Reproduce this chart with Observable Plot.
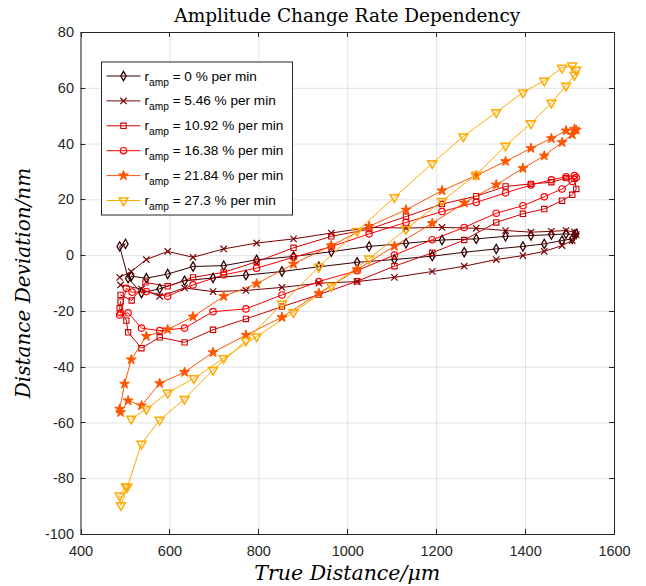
<!DOCTYPE html>
<html>
<head>
<meta charset="utf-8">
<script src="https://cdn.jsdelivr.net/npm/d3@7"></script>
<script src="https://cdn.jsdelivr.net/npm/@observablehq/plot@0.6"></script>
<style>
  html, body { margin: 0; padding: 0; background: #fff; }
  #chart svg { display: block; }
</style>
</head>
<body>
<div id="chart"></div>
<script>
// ---- data ----
const rates = ["0", "5.46", "10.92", "16.38", "21.84", "27.3"];
const colors = ["#330000", "#7a0000", "#cc0000", "#ff0000", "#ff5500", "#ffaa00"];
const xTicks = [400, 600, 800, 1000, 1200, 1400, 1600];
const yTicks = [-100, -80, -60, -40, -20, 0, 20, 40, 60, 80];

const x0 = [513,547,595,652,721,795,878,963,1048,1131,1212,1289,1355,1412,1458,1491,1510,1514,1505,1482,1442,1394,1334,1262,1190,1105,1021,935,852,771,697,633,577,536,506,487,500];
const y0 = [-7.4,-8.1,-6.6,-3.9,-3.6,-1.5,-0.3,1.4,3.3,4.4,5.6,6.0,6.9,7.2,7.5,7.8,7.5,7.8,6.0,5.4,4.2,3.3,2.4,1.2,-0.2,-1.4,-2.4,-4.0,-5.7,-7.0,-8.0,-9.0,-11.9,-13.4,-8.1,3.3,4.2];

const x1 = [487,513,547,595,652,721,795,878,963,1048,1131,1212,1289,1355,1412,1458,1491,1510,1514,1505,1482,1442,1394,1334,1262,1190,1105,1021,935,852,771,697,633,577,536,489];
const y1 = [-7.8,-5.7,-1.4,1.5,-0.6,2.4,4.5,6.0,8.1,10.1,9.9,10.1,9.8,9.0,8.4,8.7,9.0,8.4,7.5,5.4,3.6,1.5,0.0,-1.4,-3.8,-5.7,-7.8,-9.3,-9.9,-11.4,-12.5,-12.9,-11.6,-14.6,-12.0,-10.5];

const x2 = [489,514,545,595,652,721,795,878,963,1048,1131,1212,1289,1355,1412,1458,1491,1510,1514,1505,1482,1442,1394,1334,1262,1190,1105,1021,935,852,771,697,633,577,536,506,502,487,489];
const y2 = [-14.1,-16.1,-9.6,-11.0,-7.8,-6.0,-2.2,2.8,6.9,9.5,14.0,18.5,21.3,24.8,25.7,26.3,27.8,27.5,23.9,21.8,19.7,16.7,15.0,11.9,5.6,1.0,-3.8,-9.2,-14.0,-18.3,-22.7,-26.6,-31.1,-29.3,-33.2,-27.5,-23.3,-18.9,-16.5];

const x3 = [489,502,515,547,595,652,721,795,878,963,1048,1131,1212,1289,1355,1412,1458,1491,1510,1514,1505,1482,1442,1394,1334,1262,1190,1105,1021,935,852,771,697,633,577,536,506,487];
const y3 = [-20.5,-11.7,-13.1,-12.9,-14.6,-10.5,-6.9,-4.5,-0.6,3.2,7.8,11.9,15.8,19.1,22.5,25.3,27.2,28.3,28.7,28.0,26.6,23.9,21.1,17.9,15.2,10.1,5.7,0.2,-5.4,-9.3,-14.1,-19.1,-20.1,-26.0,-26.9,-26.0,-20.5,-21.3];

const x4 = [487,498,513,547,595,652,721,795,878,963,1048,1131,1212,1289,1355,1412,1458,1491,1510,1514,1505,1482,1442,1394,1334,1262,1190,1105,1021,935,852,771,697,633,577,536,506,489];
const y4 = [-55,-46,-37.3,-28.9,-26.5,-21.9,-14.6,-10.1,-3,3.6,10.5,16.4,23.3,28.7,33.8,38.5,42,44.8,45.4,45,43.4,40.6,35.8,31.3,25.4,18.9,11.6,3.4,-5,-13.5,-22.1,-28.5,-34.7,-41.8,-45.8,-53.8,-52,-56.2];

const x5 = [513,547,595,654,721,795,878,963,1048,1131,1212,1289,1355,1412,1458,1491,1510,1514,1505,1482,1442,1394,1334,1260,1190,1105,1021,935,852,771,697,633,577,536,504,490,487,501];
const y5 = [-58.5,-55,-49.2,-44,-36.8,-29,-20.3,-10.9,-1.1,9.5,19.6,29,39.4,47.4,54.8,60.9,64.8,66.6,68.1,67.3,62.7,58.5,51.4,42.7,33.1,20.9,8.8,-4,-17.3,-30.5,-41,-51.4,-58.9,-67.5,-83,-89.5,-86,-82.8];

// ---- build table ----
const xs = [x0, x1, x2, x3, x4, x5];
const ys = [y0, y1, y2, y3, y4, y5];
const data = [];
xs.forEach((arr, s) => arr.forEach((x, i) => data.push({s, i, x, y: ys[s][i]})));

const symbols = [d3.symbolDiamond, d3.symbolTimes, d3.symbolSquare, d3.symbolCircle, d3.symbolStar, d3.symbolTriangle];
const radii = [2.8, 3.0, 3.0, 3.2, 3.1, 3.3];
const rot = [0, 0, 0, 0, 0, 180];
const fills = [null, null, null, null, colors[4], null];
const sw = [1.3, 1.2, 1.1, 1.2, 1, 1.5];

const W = 646, H = 586;
const mL = 80.5, mR = 32, mT = 32, mB = 52;
const axisColor = "#262626";

const marks = [
  Plot.gridX(xTicks, {stroke: axisColor, strokeOpacity: 0.13, strokeWidth: 1}),
  Plot.gridY(yTicks, {stroke: axisColor, strokeOpacity: 0.13, strokeWidth: 1}),
  Plot.axisX({ticks: xTicks, tickSize: 0, tickPadding: 11, tickFormat: d => String(d), label: null, fontSize: 14.5, fill: axisColor}),
  Plot.axisY({ticks: yTicks, tickSize: 0, tickPadding: 7, tickFormat: d => String(d), label: null, fontSize: 14.5, fill: axisColor}),
];
for (let s = 0; s < 6; s++) {
  const d = data.filter(r => r.s === s);
  marks.push(Plot.line(d, {x: "x", y: "y", stroke: colors[s], strokeWidth: 1, curve: "linear"}));
}
for (let s = 0; s < 6; s++) {
  const d = data.filter(r => r.s === s);
  marks.push(Plot.dot(d, {x: "x", y: "y", symbol: symbols[s], r: radii[s], stroke: colors[s],
    fill: fills[s] || "none", strokeWidth: sw[s], rotate: rot[s]}));
}
marks.push(Plot.frame({stroke: axisColor, strokeWidth: 1}));

const plot = Plot.plot({
  width: W, height: H,
  marginLeft: mL, marginRight: mR, marginTop: mT, marginBottom: mB,
  x: {domain: [400, 1600]},
  y: {domain: [-100, 80]},
  style: {fontFamily: "'Liberation Sans', Arial, Helvetica, sans-serif", fontSize: "14.5px", color: axisColor, background: "#fff"},
  marks
});
document.getElementById("chart").appendChild(plot);

// ---- inward ticks, titles, legend ----
const svg = d3.select(plot);
const sx = plot.scale("x"), sy = plot.scale("y");
const X0 = sx.apply(400), X1 = sx.apply(1600), Y0 = sy.apply(-100), Y1 = sy.apply(80);
const tk = svg.append("g").attr("stroke", axisColor).attr("stroke-width", 1);
xTicks.forEach(v => {
  const px = Math.round(sx.apply(v)) + 0.5;
  tk.append("line").attr("x1", px).attr("x2", px).attr("y1", Y0).attr("y2", Y0 - 5);
  tk.append("line").attr("x1", px).attr("x2", px).attr("y1", Y1).attr("y2", Y1 + 5);
});
yTicks.forEach(v => {
  const py = Math.round(sy.apply(v)) + 0.5;
  tk.append("line").attr("y1", py).attr("y2", py).attr("x1", X0).attr("x2", X0 + 5);
  tk.append("line").attr("y1", py).attr("y2", py).attr("x1", X1).attr("x2", X1 - 5);
});

const cx = (X0 + X1) / 2, cy = (Y0 + Y1) / 2;
svg.append("text").attr("x", cx).attr("y", 22).attr("text-anchor", "middle")
  .attr("font-family", "'DejaVu Serif', serif").attr("font-size", 18.5).attr("fill", "#000")
  .text("Amplitude Change Rate Dependency");
svg.append("text").attr("x", cx).attr("y", 580).attr("text-anchor", "middle")
  .attr("font-family", "'DejaVu Serif', serif").attr("font-style", "italic").attr("font-size", 20.5).attr("fill", "#000")
  .text("True Distance/μm");
svg.append("text").attr("transform", `translate(30,${cy}) rotate(-90)`).attr("text-anchor", "middle")
  .attr("font-family", "'DejaVu Serif', serif").attr("font-style", "italic").attr("font-size", 20).attr("fill", "#000")
  .text("Distance Deviation/nm");

// legend
const lg = svg.append("g");
const LX = X0 + 21, LY = Y1 + 30, LW = 191, LH = 153;
lg.append("rect").attr("x", LX).attr("y", LY).attr("width", LW).attr("height", LH)
  .attr("fill", "#fff").attr("stroke", axisColor).attr("stroke-width", 1);
rates.forEach((r, s) => {
  const yy = LY + 14 + s * 24.9;
  lg.append("line").attr("x1", LX + 5).attr("x2", LX + 39).attr("y1", yy).attr("y2", yy)
    .attr("stroke", colors[s]).attr("stroke-width", 1);
  lg.append("path").attr("d", d3.symbol(symbols[s], Math.PI * radii[s] * radii[s])())
    .attr("transform", `translate(${LX + 22},${yy}) rotate(${rot[s]})`)
    .attr("stroke", colors[s]).attr("stroke-width", sw[s]).attr("fill", fills[s] || "none");
  const t = lg.append("text").attr("x", LX + 43).attr("y", yy + 4.5).attr("text-anchor", "start")
    .attr("font-family", "'Liberation Sans', Arial, sans-serif").attr("font-size", 13.6).attr("fill", "#000");
  t.append("tspan").text("r");
  t.append("tspan").attr("dy", 5).attr("font-size", 10.2).text("amp");
  t.append("tspan").attr("dy", -5).text(` = ${r} % per min`);
});
</script>
</body>
</html>
